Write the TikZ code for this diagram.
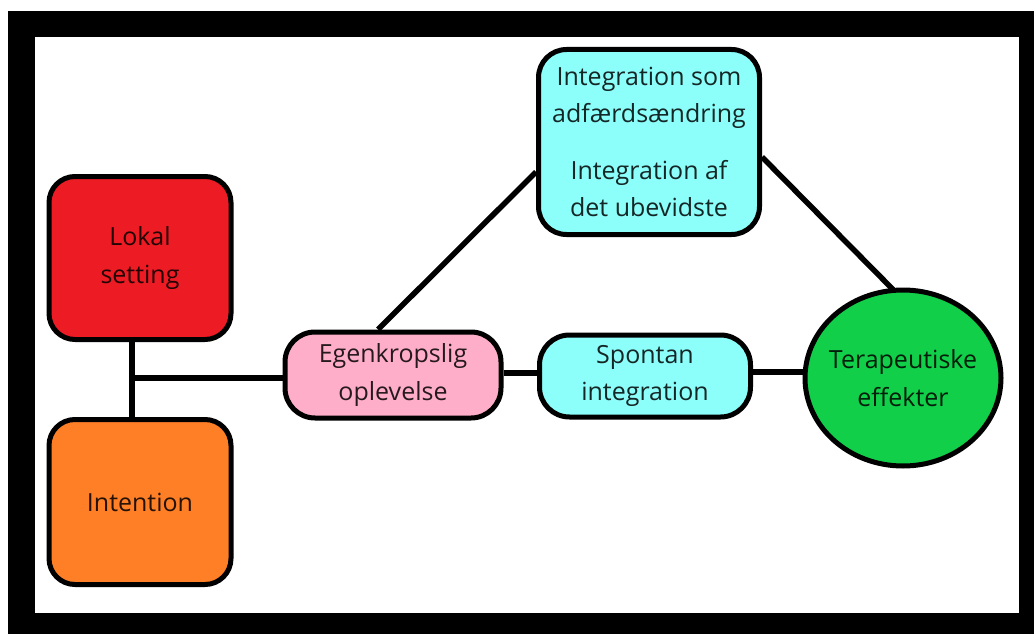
\documentclass[tikz,border=0pt]{standalone}
\usepackage{fontspec}
\setmainfont{Open Sans}
\usetikzlibrary{backgrounds,calc,shapes.geometric}
\definecolor{cred}{HTML}{ED1C24}
\definecolor{corange}{HTML}{FF7F27}
\definecolor{cpink}{HTML}{FFAEC9}
\definecolor{ccyan}{HTML}{8CFFFB}
\definecolor{cgreen}{HTML}{12CF4A}
\tikzset{
  box/.style={draw=black, line width=5pt, rounded corners=26pt, align=center,
    inner sep=0pt, text=black, text opacity=0.85, font=\fontsize{25}{37.5}\selectfont},
  conn/.style={line width=5.5pt, draw=black},
}
\begin{document}
\begin{tikzpicture}[x=1pt,y=-1pt]
\useasboundingbox (0,0) rectangle (1034,634);
\node[box, fill=cred, minimum width=182pt, minimum height=163pt] (lokal) at (140,258) {Lokal\\setting};
\node[box, fill=corange, minimum width=182pt, minimum height=165pt] (intent) at (140,502) {Intention};
\node[box, fill=cpink, rounded corners=30pt, minimum width=216pt, minimum height=86pt] (egen) at (393,375) {Egenkropslig\\oplevelse};
\node[box, fill=ccyan, rounded corners=30pt, minimum width=211pt, minimum height=82pt] (spont) at (645,376) {Spontan\\integration};
\node[box, fill=ccyan, rounded corners=28pt, minimum width=221pt, minimum height=185pt] (top) at (649,142) {Integration som\\adfærdsændring\\[19pt]Integration af\\det ubevidste};
\node[box, ellipse, fill=cgreen, inner xsep=-12pt, inner ysep=-8pt, minimum width=196pt, minimum height=176pt] (terap) at (903,378) {Terapeutiske\\effekter};
\coordinate (jtop) at ($(lokal.south)+(-8,0)$);
\coordinate (jbot) at ($(intent.north)+(-8,0)$);
\coordinate (jmid) at (jtop |- 0,378);
\begin{scope}[on background layer]
\fill[black] (8,11) rectangle (1034,634);
\fill[white] (35,37) rectangle (1019,613);
\draw[conn] (jtop) -- (jbot);
\draw[conn] (jmid) -- (egen.west |- jmid);
\draw[conn] ($(egen.north)+(-15,0)$) -- ($(top.west)+(0,30)$);
\draw[conn] ($(top.east)+(0,15)$) -- ($(terap.north)+(-10,2)$);
\draw[conn] ($(egen.east)+(0,-2)$) -- ($(spont.west)+(0,-3)$);
\draw[conn] ($(spont.east)+(0,-4)$) -- (terap.west |- 0,372);
\end{scope}
\end{tikzpicture}
\end{document}
